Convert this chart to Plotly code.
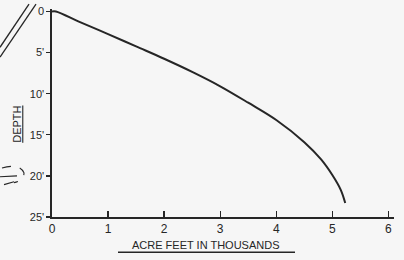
import plotly.graph_objects as go

# Data
acre_feet_thousands = [0, 0.07, 0.5, 1.0, 1.5, 2.0, 2.5, 3.0, 3.5, 4.0, 4.5, 4.8, 5.0, 5.15, 5.23]
depth_ft = [0, 0, 1.3, 2.75, 4.25, 5.75, 7.35, 9.1, 11.1, 13.2, 15.9, 18.0, 19.9, 21.7, 23.3]

x_ticks = [0, 1, 2, 3, 4, 5, 6]
x_tick_labels = ["0", "1", "2", "3", "4", "5", "6"]
y_ticks = [0, 5, 10, 15, 20, 25]
y_tick_labels = ["0", "5'", "10'", "15'", "20'", "25'"]

W, H = 404, 260
L, R, T, B = 52, 10, 5, 43
pw, ph = W - L - R, H - T - B

def px(x):
    return (x - L) / pw

def py(y):
    return (H - B - y) / ph

ink = "#262626"
font = dict(family="Liberation Sans, Arial, sans-serif", size=11, color=ink)

fig = go.Figure()
fig.add_trace(go.Scatter(
    x=acre_feet_thousands, y=depth_ft, mode="lines",
    line=dict(color=ink, width=2, shape="spline", smoothing=1.0),
    hoverinfo="skip", showlegend=False,
))

shapes = [
    # scan artifacts: double diagonal line at top-left
    dict(type="line", xref="paper", yref="paper", x0=px(0), y0=py(44), x1=px(29), y1=py(0),
         line=dict(color=ink, width=1.3)),
    dict(type="line", xref="paper", yref="paper", x0=px(0), y0=py(54), x1=px(36), y1=py(0),
         line=dict(color=ink, width=1.3)),
    # dashed loop artifact near 20'
    dict(type="path", xref="paper", yref="paper",
         path=f"M {px(2)},{py(167)} Q {px(20)},{py(162)} {px(24)},{py(172)} Q {px(24)},{py(180)} {px(14)},{py(182)}",
         line=dict(color=ink, width=1.1, dash="dash")),
    dict(type="line", xref="paper", yref="paper", x0=px(0), y0=py(176), x1=px(17), y1=py(175),
         line=dict(color=ink, width=1.2)),
    dict(type="line", xref="paper", yref="paper", x0=px(4), y0=py(184), x1=px(14), y1=py(181),
         line=dict(color=ink, width=1.1)),
    # underline of x title
    dict(type="line", xref="paper", yref="paper", x0=px(118), y0=py(253), x1=px(295), y1=py(253),
         line=dict(color=ink, width=1.6)),
]

fig.update_layout(
    width=W, height=H,
    margin=dict(l=L, r=R, t=T, b=B),
    paper_bgcolor="#f6f6f6", plot_bgcolor="#f6f6f6",
    font=font,
    shapes=shapes,
    annotations=[
        dict(text="ACRE FEET IN THOUSANDS", xref="paper", yref="paper",
             x=px(206), y=py(246), xanchor="center", yanchor="middle",
             showarrow=False, font=dict(size=11, color=ink)),
        dict(text="<u>DEPTH</u>", xref="paper", yref="paper",
             x=px(17), y=py(123), xanchor="center", yanchor="middle",
             showarrow=False, textangle=-90, font=dict(size=11, color=ink)),
    ],
    xaxis=dict(
        range=[0, 6.1], showgrid=False, zeroline=False, showline=True,
        linecolor=ink, linewidth=1.6, ticks="inside", ticklen=6, tickwidth=1.3, tickcolor=ink,
        tickvals=x_ticks, ticktext=x_tick_labels, tickfont=dict(size=12, color=ink),
    ),
    yaxis=dict(
        range=[25, -0.3], showgrid=False, zeroline=False, showline=True,
        linecolor=ink, linewidth=1.6, ticks="outside", ticklen=4, tickwidth=1.3, tickcolor=ink,
        tickvals=y_ticks, ticktext=y_tick_labels, tickfont=dict(size=11, color=ink),
    ),
)

fig.write_html("out.html", config={"displayModeBar": False, "staticPlot": True},
               post_script="document.body.style.margin='0';document.body.style.overflow='hidden';")
